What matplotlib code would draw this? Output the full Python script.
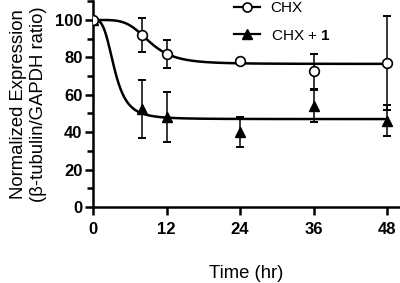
import numpy as np
import matplotlib
matplotlib.use("Agg")
import matplotlib.pyplot as plt

plt.rcParams['font.family'] = ['Liberation Sans', 'DejaVu Sans']
plt.rcParams['mathtext.fontset'] = 'custom'
plt.rcParams['mathtext.rm'] = 'Liberation Sans'
plt.rcParams['mathtext.bf'] = 'Liberation Sans:bold'

# data
time = [0, 8, 12, 24, 36, 48]
chx = [100, 92, 82, 78, 72.5, 77]
chx_err = [0, 9, 7.5, 1, 9.5, 25]
chx1 = [100, 52.5, 48, 40, 54, 46]
chx1_err = [0, 15.5, 13.5, 8, 8.5, 8.3]

# fitted decay curves: top, bottom, t50, hill slope
chx_fit = [100, 76.5, 9.25, 4.56]
chx1_fit = [100, 47, 3.53, 3.43]

xticks = [0, 12, 24, 36, 48]
yticks = [0, 20, 40, 60, 80, 100]
yminor = [10, 30, 50, 70, 90, 110]


def hill(t, p):
    top, bottom, t50, h = p
    return bottom + (top - bottom) / (1 + (t / t50) ** h)


fig = plt.figure(figsize=(4, 2.83), dpi=100)
ax = fig.add_axes([0.2325, 0.2686, 0.766, 0.727])

tt = np.linspace(0, 48, 400)
lw = 1.8
ax.plot(tt, hill(tt, chx_fit), color='black', lw=lw, zorder=2)
ax.plot(tt, hill(tt, chx1_fit), color='black', lw=lw, zorder=2)

ax.errorbar(time, chx1, yerr=chx1_err, fmt='none', ecolor='black',
            elinewidth=1.1, capsize=3, capthick=1.4, zorder=1)
ax.errorbar(time, chx, yerr=chx_err, fmt='none', ecolor='black',
            elinewidth=1.1, capsize=3, capthick=1.4, zorder=1)
ax.plot(time, chx1, ls='none', marker='^', ms=6.5, color='black', zorder=3)
ax.plot(time, chx, ls='none', marker='o', ms=7, mfc='white', mec='black',
        mew=1.2, zorder=4)

# legend handles
h1, = ax.plot([], [], color='black', lw=1.6, marker='o', ms=6.5, mfc='white',
              mec='black', mew=1.2)
h2, = ax.plot([], [], color='black', lw=1.6, marker='^', ms=6.5)
ax.legend([h1, h2], ['CHX', r'CHX + $\mathbf{1}$'], loc='upper left',
          bbox_to_anchor=(0.585, 0.997), bbox_transform=fig.transFigure,
          frameon=False, fontsize=11, handlelength=1.7, handletextpad=0.7,
          labelspacing=0.9, borderpad=0, borderaxespad=0)

ax.set_xlim(0, 50)
ax.set_ylim(0, 110)
ax.set_xticks(xticks)
ax.set_yticks(yticks)
ax.set_yticks(yminor, minor=True)

for s in ['top', 'right']:
    ax.spines[s].set_visible(False)
for s in ['left', 'bottom']:
    ax.spines[s].set_linewidth(1.8)

ax.tick_params(which='major', direction='out', length=5.5, width=1.8,
               labelsize=12, pad=2)
ax.tick_params(axis='x', which='major', pad=5.5)
ax.tick_params(which='minor', direction='out', length=4, width=1.8)
for lab in ax.get_xticklabels() + ax.get_yticklabels():
    lab.set_fontweight('bold')

ax.set_xlabel('Time (hr)', fontsize=13.3, labelpad=20)
ax.set_ylabel('Normalized Expression\n(β-tubulin/GAPDH ratio)', fontsize=13.3,
              labelpad=6)

fig.savefig('out.png', dpi=100)
